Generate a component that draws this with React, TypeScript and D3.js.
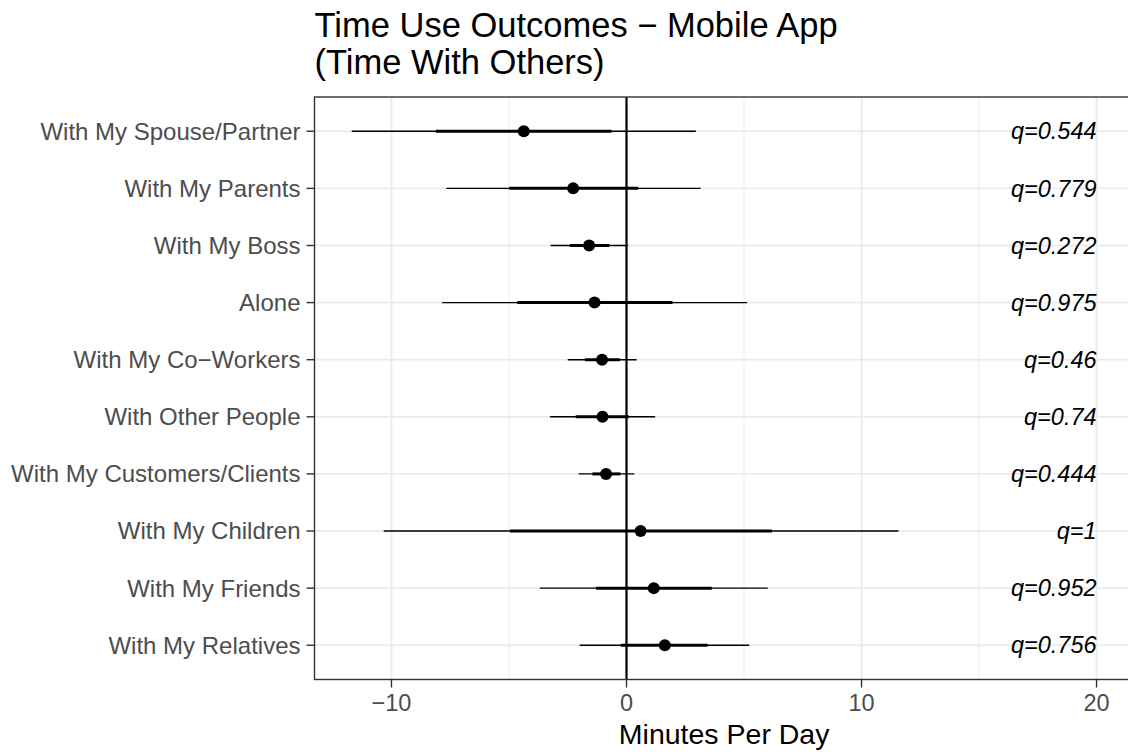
import { scaleLinear, scalePoint } from "d3";

const categories = [
  "With My Spouse/Partner",
  "With My Parents",
  "With My Boss",
  "Alone",
  "With My Co\u2212Workers",
  "With Other People",
  "With My Customers/Clients",
  "With My Children",
  "With My Friends",
  "With My Relatives",
];

const estimates = [-4.37, -2.27, -1.59, -1.36, -1.04, -1.02, -0.87, 0.6, 1.16, 1.63];
const lower95 = [-11.69, -7.66, -3.23, -7.84, -2.5, -3.26, -2.04, -10.33, -3.69, -1.99];
const upper95 = [2.95, 3.15, 0.07, 5.13, 0.43, 1.22, 0.33, 11.57, 6.01, 5.22];
const lower50 = [-8.11, -4.99, -2.41, -4.65, -1.77, -2.16, -1.45, -4.96, -1.3, -0.24];
const upper50 = [-0.64, 0.5, -0.74, 1.96, -0.28, 0.1, -0.26, 6.18, 3.63, 3.45];
const qValues = ["0.544", "0.779", "0.272", "0.975", "0.46", "0.74", "0.444", "1", "0.952", "0.756"];

const xTicks = [-10, 0, 10, 20];
const xMinorTicks = [-5, 5, 15];
const qLabelX = 20;

const font = "'Liberation Sans', Arial, Helvetica, sans-serif";

export default function App() {
  const width = 1128;
  const height = 752;
  const panel = { left: 314.5, top: 97, right: 1133.8, bottom: 679.5 };

  const lo = Math.min(...lower95);
  const hi = qLabelX;
  const pad = (hi - lo) * 0.05;

  const x = scaleLinear()
    .domain([lo - pad, hi + pad])
    .range([panel.left, panel.right]);

  const y = scalePoint<string>()
    .domain(categories)
    .range([panel.top, panel.bottom])
    .padding(0.6);

  const fmtTick = (v: number) => (v < 0 ? `\u2212${Math.abs(v)}` : `${v}`);

  return (
    <svg
      width={width}
      height={height}
      viewBox={`0 0 ${width} ${height}`}
      style={{ position: "absolute", left: 0, top: 0, background: "#fff" }}
      fontFamily={font}
    >
      <rect x={0} y={0} width={width} height={height} fill="#fff" />

      {/* grid */}
      <g>
        {xMinorTicks.map((t) => (
          <line
            key={`minor-${t}`}
            x1={x(t)}
            x2={x(t)}
            y1={panel.top}
            y2={panel.bottom}
            stroke="#EBEBEB"
            strokeWidth={0.9}
          />
        ))}
        {xTicks.map((t) => (
          <line
            key={`major-${t}`}
            x1={x(t)}
            x2={x(t)}
            y1={panel.top}
            y2={panel.bottom}
            stroke="#EBEBEB"
            strokeWidth={1.8}
          />
        ))}
        {categories.map((c) => (
          <line
            key={`hgrid-${c}`}
            x1={panel.left}
            x2={panel.right}
            y1={y(c)}
            y2={y(c)}
            stroke="#EBEBEB"
            strokeWidth={1.8}
          />
        ))}
      </g>

      {/* zero line */}
      <line x1={x(0)} x2={x(0)} y1={panel.top} y2={panel.bottom} stroke="#000" strokeWidth={2.2} />

      {/* intervals and points */}
      <g>
        {categories.map((c, i) => {
          const cy = y(c) ?? 0;
          return (
            <g key={`mark-${c}`}>
              <line x1={x(lower95[i])} x2={x(upper95[i])} y1={cy} y2={cy} stroke="#000" strokeWidth={1.4} />
              <line x1={x(lower50[i])} x2={x(upper50[i])} y1={cy} y2={cy} stroke="#000" strokeWidth={3} />
              <circle cx={x(estimates[i])} cy={cy} r={6} fill="#000" />
              <text
                x={x(qLabelX)}
                y={cy}
                dy="0.35em"
                textAnchor="end"
                fontStyle="italic"
                fontSize={23.5}
                fill="#000"
              >
                {`q=${qValues[i]}`}
              </text>
            </g>
          );
        })}
      </g>

      {/* panel border */}
      <rect
        x={panel.left}
        y={panel.top}
        width={panel.right - panel.left}
        height={panel.bottom - panel.top}
        fill="none"
        stroke="#333333"
        strokeWidth={1.4}
      />

      {/* y axis */}
      <g>
        {categories.map((c) => (
          <g key={`ytick-${c}`}>
            <line x1={panel.left - 8} x2={panel.left} y1={y(c)} y2={y(c)} stroke="#333333" strokeWidth={1.4} />
            <text
              x={panel.left - 14}
              y={y(c)}
              dy="0.35em"
              textAnchor="end"
              fontSize={24}
              fill="#4D4D4D"
            >
              {c}
            </text>
          </g>
        ))}
      </g>

      {/* x axis */}
      <g>
        {xTicks.map((t) => (
          <g key={`xtick-${t}`}>
            <line x1={x(t)} x2={x(t)} y1={panel.bottom} y2={panel.bottom + 8} stroke="#333333" strokeWidth={1.4} />
            <text x={x(t)} y={panel.bottom + 31} textAnchor="middle" fontSize={23.5} fill="#4D4D4D">
              {fmtTick(t)}
            </text>
          </g>
        ))}
        <text
          x={(panel.left + panel.right) / 2}
          y={744}
          textAnchor="middle"
          fontSize={28.5}
          fill="#000"
        >
          Minutes Per Day
        </text>
      </g>

      {/* title */}
      <text x={panel.left} y={37} fontSize={34.5} fill="#000">
        <tspan x={panel.left} y={37}>
          {"Time Use Outcomes \u2212 Mobile App"}
        </tspan>
        <tspan x={panel.left} y={73.5}>
          (Time With Others)
        </tspan>
      </text>
    </svg>
  );
}
